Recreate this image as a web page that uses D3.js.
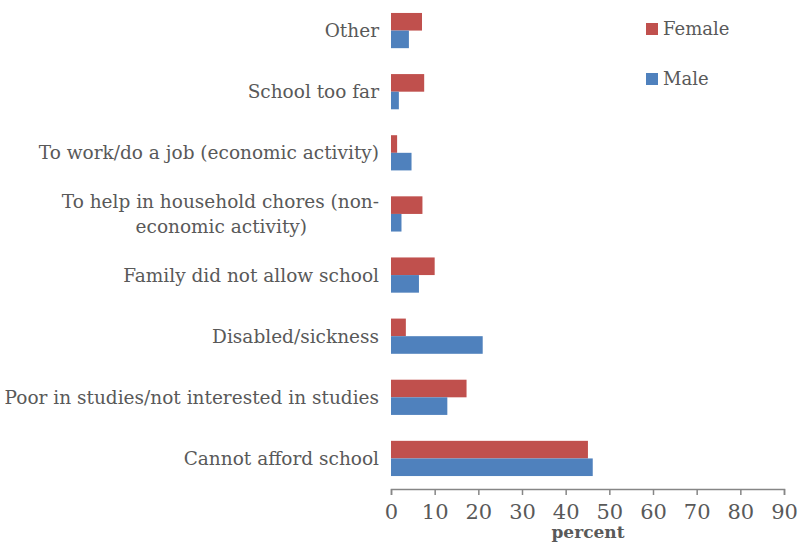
<!DOCTYPE html>
<html>
<head>
<meta charset="utf-8">
<script src="https://cdn.jsdelivr.net/npm/d3@7/dist/d3.min.js"></script>
<style>
  html, body { margin: 0; padding: 0; background: #fff; }
  svg { display: block; }
  text { font-family: "DejaVu Serif", "Liberation Serif", serif; fill: #595959; }
</style>
</head>
<body>
<script>
// Reasons for not attending school, by sex (percent)
const categories = [
  "Other",
  "School too far",
  "To work/do a job (economic activity)",
  "To help in household chores (non-economic activity)",
  "Family did not allow school",
  "Disabled/sickness",
  "Poor in studies/not interested in studies",
  "Cannot afford school"
];
const female = [7.1, 7.6, 1.4, 7.2, 10.0, 3.4, 17.3, 45.1];
const male   = [4.1, 1.8, 4.7, 2.4, 6.4, 21.0, 12.9, 46.2];
const seriesNames = ["Female", "Male"];
const seriesColors = ["#C0504D", "#4F81BD"];
const xTicks = [0, 10, 20, 30, 40, 50, 60, 70, 80, 90];

// Label lines (long ones wrapped onto two lines)
const labelLines = {
  "To help in household chores (non-economic activity)": ["To help in household chores (non-", "economic activity)"]
};

const W = 798, H = 542;
const plot = { left: 391, right: 784, top: 0, bottom: 489 };

const svg = d3.select("body").append("svg").attr("width", W).attr("height", H);

const x = d3.scaleLinear().domain([0, 90]).range([plot.left, plot.right]);
const y = d3.scaleBand().domain(categories).range([plot.top, plot.bottom]).paddingInner(0.424).paddingOuter(0.212);
const ySub = d3.scaleBand().domain(seriesNames).range([0, y.bandwidth()]);

const rows = categories.map((c, i) => ({ cat: c, vals: [female[i], male[i]] }));

const g = svg.append("g");
rows.forEach(r => {
  r.vals.forEach((v, k) => {
    g.append("rect")
      .attr("x", x(0))
      .attr("y", y(r.cat) + ySub(seriesNames[k]))
      .attr("width", x(v) - x(0))
      .attr("height", ySub.bandwidth())
      .attr("fill", seriesColors[k]);
  });
});

// x axis
const axis = d3.axisBottom(x).tickValues(xTicks).tickSize(6).tickPadding(9).tickFormat(d3.format("d"));
const ax = svg.append("g").attr("transform", `translate(0,${plot.bottom})`).call(axis);
ax.select(".domain").attr("stroke", "#868686").attr("stroke-width", 1.5);
ax.selectAll(".tick line").attr("stroke", "#868686").attr("stroke-width", 1.5);
ax.selectAll(".tick text").attr("font-size", 21).attr("fill", "#595959")
  .style("font-family", '"DejaVu Serif", serif');

svg.append("text")
  .attr("x", 588)
  .attr("y", 538)
  .attr("text-anchor", "middle")
  .attr("font-size", 17)
  .attr("font-weight", "bold")
  .text("percent");

// category labels
const lab = svg.append("g");
categories.forEach(c => {
  const lines = labelLines[c] || [c];
  const cy = y(c) + y.bandwidth() / 2;
  const lh = 25;
  const t = lab.append("text")
    .attr("text-anchor", "end")
    .attr("font-size", 18.5);
  lines.forEach((ln, j) => {
    t.append("tspan")
      .attr("x", lines.length > 1 && j > 0 ? 307 : 379)
      .attr("y", cy + (j - (lines.length - 1) / 2) * lh)
      .attr("dy", "0.35em")
      .text(ln);
  });
});

// legend
const leg = svg.append("g");
seriesNames.forEach((s, k) => {
  const ly = 23 + k * 50;
  leg.append("rect").attr("x", 646).attr("y", ly).attr("width", 12).attr("height", 12).attr("fill", seriesColors[k]);
  leg.append("text").attr("x", 663).attr("y", ly + 6).attr("dy", "0.35em").attr("font-size", 18).text(s);
});
</script>
</body>
</html>
